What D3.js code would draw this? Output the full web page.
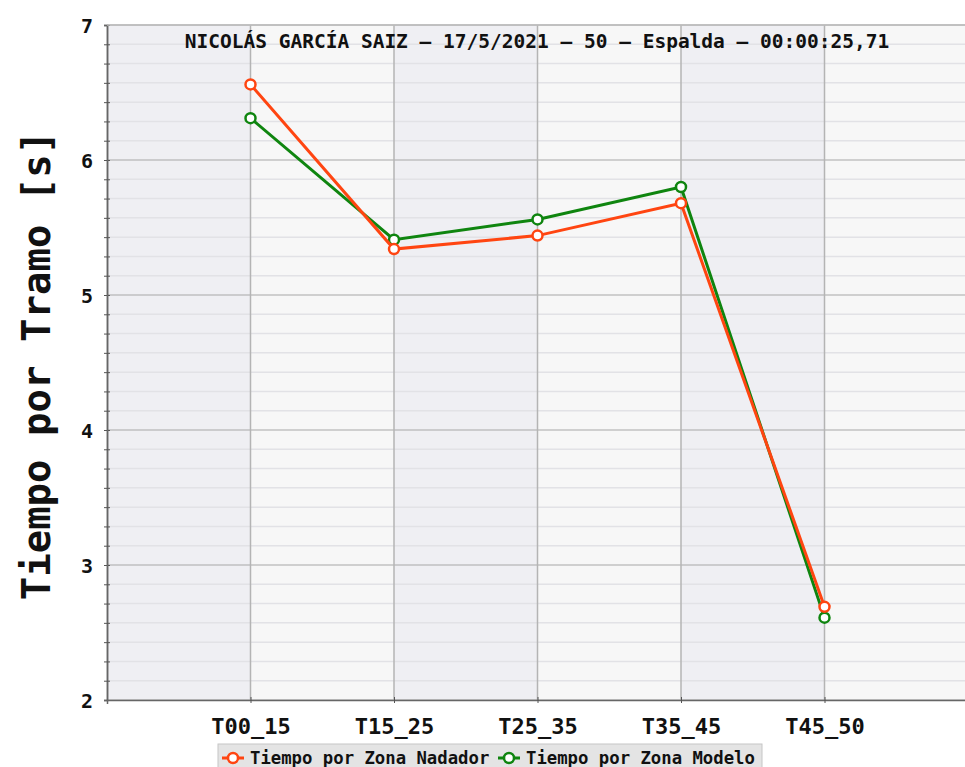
<!DOCTYPE html>
<html>
<head>
<meta charset="utf-8">
<script src="https://cdn.jsdelivr.net/npm/d3@7"></script>
<style>
  body { margin: 0; background: #fff; }
  text { font-family: "DejaVu Sans Mono", monospace; font-weight: bold; fill: #111; }
</style>
</head>
<body>
<div id="chart"></div>
<script>
// data
var tramos = ['T00_15', 'T15_25', 'T25_35', 'T35_45', 'T45_50']
var nadador = [6.56, 5.34, 5.44, 5.68, 2.69]
var modelo = [6.31, 5.41, 5.56, 5.80, 2.61]
var yTicks = [2, 3, 4, 5, 6, 7]
var title = 'NICOLÁS GARCÍA SAIZ – 17/5/2021 – 50 – Espalda – 00:00:25,71'

var W = 965, H = 767
var margin = {top: 25, right: 0, bottom: 67, left: 107}
var width = W - margin.left - margin.right,
  height = H - margin.top - margin.bottom

var svg = d3.select('#chart')
  .append('svg')
  .attr('width', W)
  .attr('height', H)

var g = svg.append('g')
  .attr('transform', 'translate(' + margin.left + ',' + margin.top + ')')

var x_scale = d3.scaleLinear()
  .domain([-1, tramos.length])
  .range([0, width + 3])

var y_scale = d3.scaleLinear()
  .domain([2, 7])
  .range([height, 0])

// alternating column bands
var edges = [-1].concat(d3.range(tramos.length)).concat([tramos.length])
for (var i = 0; i < edges.length - 1; i++) {
  g.append('rect')
    .attr('x', x_scale(edges[i]))
    .attr('y', 0)
    .attr('width', x_scale(edges[i + 1]) - x_scale(edges[i]))
    .attr('height', height)
    .attr('fill', i % 2 == 0 ? '#efeff3' : '#f7f7f7')
}

// minor horizontal grid (7 steps per unit)
var minor = d3.range(2, 7, 1 / 7).filter(function(v) { return Math.abs(v - Math.round(v)) > 0.01 })
g.selectAll('.minor')
  .data(minor)
  .enter()
  .append('line')
  .attr('x1', 0).attr('x2', width)
  .attr('y1', function(d) { return y_scale(d) })
  .attr('y2', function(d) { return y_scale(d) })
  .attr('stroke', '#e2e2e6')
  .attr('stroke-width', 1.5)

// major horizontal grid
g.selectAll('.major')
  .data(yTicks)
  .enter()
  .append('line')
  .attr('x1', 0).attr('x2', width)
  .attr('y1', function(d) { return y_scale(d) })
  .attr('y2', function(d) { return y_scale(d) })
  .attr('stroke', '#a8a8a8')
  .attr('stroke-width', 1.2)

// vertical grid at categories
g.selectAll('.vgrid')
  .data(tramos)
  .enter()
  .append('line')
  .attr('x1', function(d, i) { return x_scale(i) })
  .attr('x2', function(d, i) { return x_scale(i) })
  .attr('y1', 0).attr('y2', height)
  .attr('stroke', '#b4b4b4')
  .attr('stroke-width', 1.5)

// axes
var y_axis = d3.axisLeft(y_scale)
  .tickValues(yTicks)
  .tickFormat(d3.format('d'))
  .tickSize(3)
  .tickPadding(11)
g.append('g')
  .attr('class', 'axis y-axis')
  .call(y_axis)
g.append('g')
  .call(d3.axisLeft(y_scale).tickValues(minor).tickSize(3).tickFormat(''))
g.selectAll('.tick line').attr('x2', 3).attr('x1', -3).attr('stroke', '#555')
g.selectAll('.y-axis text')
  .attr('font-size', 20)
  .attr('font-family', '"DejaVu Sans", sans-serif')
  .attr('dy', '0.36em')
g.selectAll('.domain').attr('stroke', '#666').attr('stroke-width', 1.5)

var x_axis = d3.axisBottom(x_scale)
  .tickValues(d3.range(tramos.length))
  .tickFormat(function(d) { return tramos[d] })
  .tickSize(4)
  .tickPadding(10)
var xg = g.append('g')
  .attr('class', 'axis x-axis')
  .attr('transform', 'translate(0,' + height + ')')
  .call(x_axis)
xg.select('.domain').attr('stroke', '#666').attr('stroke-width', 1.5)
xg.selectAll('.tick line').attr('y1', -3).attr('y2', 3).attr('stroke', '#555')
xg.selectAll('text').attr('font-size', 22).attr('dy', '0.9em')

// top border
g.append('line')
  .attr('x1', 0).attr('x2', width)
  .attr('y1', 0).attr('y2', 0)
  .attr('stroke', '#bbb').attr('stroke-width', 1.5)

// series
var line = d3.line()
  .x(function(d, i) { return x_scale(i) })
  .y(function(d) { return y_scale(d) })

var series = [
  {name: 'Tiempo por Zona Modelo', values: modelo, color: '#0f850f'},
  {name: 'Tiempo por Zona Nadador', values: nadador, color: '#ff4511'}
]

series.forEach(function(s) {
  g.append('path')
    .datum(s.values)
    .attr('d', line)
    .attr('fill', 'none')
    .attr('stroke', s.color)
    .attr('stroke-width', 3)
  g.selectAll('.pt')
    .data(s.values)
    .enter()
    .append('circle')
    .attr('cx', function(d, i) { return x_scale(i) })
    .attr('cy', function(d) { return y_scale(d) })
    .attr('r', 5)
    .attr('fill', '#fff')
    .attr('stroke', s.color)
    .attr('stroke-width', 2.5)
})

// title
g.append('text')
  .attr('x', width / 2 + 1)
  .attr('y', 23)
  .attr('text-anchor', 'middle')
  .attr('font-size', 19.5)
  .text(title)

// y axis label
svg.append('text')
  .attr('transform', 'translate(50,' + (margin.top + height / 2 + 3) + ') rotate(-90)')
  .attr('text-anchor', 'middle')
  .attr('font-size', 39)
  .text('Tiempo por Tramo [s]')

// legend
var lg = svg.append('g').attr('transform', 'translate(218,744)')
lg.append('rect')
  .attr('width', 544).attr('height', 30)
  .attr('fill', '#e4e4e4')
  .attr('stroke', '#c6c6c6')

var legendItems = [series[1], series[0]]
var lx = [4, 280]
legendItems.forEach(function(s, i) {
  var it = lg.append('g').attr('transform', 'translate(' + lx[i] + ',0)')
  it.append('line')
    .attr('x1', 0).attr('x2', 22)
    .attr('y1', 14).attr('y2', 14)
    .attr('stroke', s.color).attr('stroke-width', 3)
  it.append('circle')
    .attr('cx', 11).attr('cy', 14).attr('r', 5)
    .attr('fill', '#fff').attr('stroke', s.color).attr('stroke-width', 2.5)
  it.append('text')
    .attr('x', 28).attr('y', 20)
    .attr('font-size', 17.3)
    .text(s.name)
})
</script>
</body>
</html>
